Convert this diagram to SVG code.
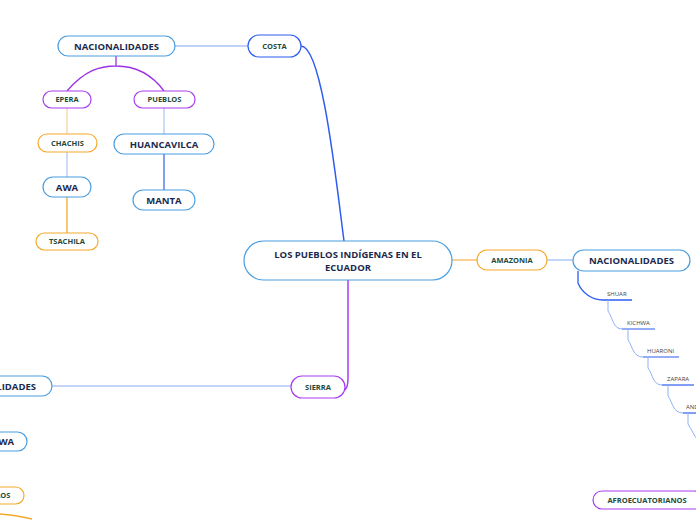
<svg xmlns="http://www.w3.org/2000/svg" width="696" height="520" viewBox="0 0 696 520">
<style>
.n{fill:#fff;stroke-width:1.2}
.b{stroke:#4a9ee0}
.c{stroke:#2d5cf0}
.p{stroke:#a73cf2}
.o{stroke:#f5a92a}
.t1{font-family:"Open Sans","Noto Sans",sans-serif;font-weight:700;font-size:9.5px;fill:#1b2a4e;text-anchor:middle}
.t2{font-family:"Open Sans","Noto Sans",sans-serif;font-weight:700;font-size:7.5px;fill:#1f4a3a;text-anchor:middle}
.t3{font-family:"Open Sans","Noto Sans",sans-serif;font-size:6px;fill:#444;}
.l{fill:none}
</style>
<g id="connectors" class="l">
<path d="M301,46 C322,46 336,180 344,241" stroke="#2d5cf0" stroke-width="1.5"/>
<path d="M175,46 L248,46" stroke="#a9c4f5" stroke-width="1.5"/>
<path d="M116,56 L116,66 M67,91 C85,70 100,66 116,66 C132,66 150,72 164,91" stroke="#9b30e8" stroke-width="1.3"/>
<path d="M67,108 L67,134" stroke="#f9d59a" stroke-width="1.3"/>
<path d="M67,152 L67,177" stroke="#b0c8f5" stroke-width="1.3"/>
<path d="M67,197 L67,233" stroke="#f5a92a" stroke-width="1.3"/>
<path d="M164,108 L164,134" stroke="#b0c8f5" stroke-width="1.3"/>
<path d="M164,154 L164,190" stroke="#3a6ee8" stroke-width="1.3"/>
<path d="M452,260 L477,260" stroke="#f8c070" stroke-width="1.5"/>
<path d="M547,260 L573,260" stroke="#b0c8f5" stroke-width="1.5"/>
<path d="M578,271 L578,283 C582,293 592,300 603,300 L632,300" stroke="#2d5cf0" stroke-width="1.3"/>
<path d="M608,300 L608,311 C613,318 613,329 622,329" stroke="#8fb0f5" stroke-width="1"/>
<path d="M622,329 L655,329" stroke="#2d5cf0" stroke-width="1.2"/>
<path d="M628,329 L628,340 C633,347 633,357 643,357" stroke="#8fb0f5" stroke-width="1"/>
<path d="M643,357 L679,357" stroke="#2d5cf0" stroke-width="1.2"/>
<path d="M648,357 L648,368 C653,375 653,385 662,385" stroke="#8fb0f5" stroke-width="1"/>
<path d="M662,385 L694,385" stroke="#2d5cf0" stroke-width="1.2"/>
<path d="M668,385 L668,396 C673,403 673,413 683,413" stroke="#8fb0f5" stroke-width="1"/>
<path d="M683,413 L700,413" stroke="#2d5cf0" stroke-width="1.2"/>
<path d="M688,413 L688,424 C692,430 694,436 698,440" stroke="#8fb0f5" stroke-width="1"/>
<path d="M348,280 L348,378 Q348,389 344,390" stroke="#a73cf2" stroke-width="1.5"/>
<path d="M52,386 L291,386" stroke="#b0c8f5" stroke-width="1.5"/>
<path d="M0,514 Q15,515 32,519" stroke="#f5a92a" stroke-width="1.5"/>
</g>
<g id="central"><rect class="n b" x="244" y="241" width="208" height="39" rx="19.5"/><text class="t1" x="348" y="258">LOS PUEBLOS INDÍGENAS EN EL</text><text class="t1" x="348" y="271">ECUADOR</text></g>
<g id="costa"><rect class="n c" x="248" y="35" width="53" height="22" rx="11"/><text class="t2" x="274.5" y="48.5">COSTA</text></g>
<g id="nac-costa"><rect class="n b" x="58" y="36" width="117" height="20" rx="10"/><text class="t1" x="116.5" y="49.5">NACIONALIDADES</text></g>
<g id="epera"><rect class="n p" x="43" y="91" width="48" height="17" rx="8.5"/><text class="t2" x="67" y="102">EPERA</text></g>
<g id="pueblos"><rect class="n p" x="134" y="91" width="61" height="17" rx="8.5"/><text class="t2" x="164.5" y="102">PUEBLOS</text></g>
<g id="chachis"><rect class="n o" x="38" y="134" width="59" height="18" rx="9"/><text class="t2" x="67.5" y="145.5">CHACHIS</text></g>
<g id="huancavilca"><rect class="n b" x="114" y="134" width="100" height="20" rx="10"/><text class="t1" x="164" y="147.5">HUANCAVILCA</text></g>
<g id="awa"><rect class="n b" x="43" y="177" width="48" height="20" rx="10"/><text class="t1" x="67" y="190.5">AWA</text></g>
<g id="manta"><rect class="n b" x="133" y="190" width="62" height="20" rx="10"/><text class="t1" x="164" y="203.5">MANTA</text></g>
<g id="tsachila"><rect class="n o" x="36" y="233" width="62" height="17" rx="8.5"/><text class="t2" x="67" y="244">TSACHILA</text></g>
<g id="amazonia"><rect class="n o" x="477" y="250" width="70" height="20" rx="10"/><text class="t2" x="512" y="263">AMAZONIA</text></g>
<g id="nac-amazonia"><rect class="n b" x="573" y="250" width="117" height="21" rx="10.5"/><text class="t1" x="631.5" y="264">NACIONALIDADES</text></g>
<g id="shuar"><text class="t3" x="607" y="296">SHUAR</text></g>
<g id="kichwa"><text class="t3" x="627" y="325">KICHWA</text></g>
<g id="huaroni"><text class="t3" x="647" y="353">HUARONI</text></g>
<g id="zapara"><text class="t3" x="667" y="381">ZAPARA</text></g>
<g id="an"><text class="t3" x="686" y="409">ANDOA</text></g>
<g id="sierra"><rect class="n p" x="291" y="376" width="54" height="22" rx="11"/><text class="t2" x="318" y="389.5">SIERRA</text></g>
<g id="nac-sierra"><rect class="n b" x="-65" y="376" width="117" height="20" rx="10"/><text class="t1" x="-6.5" y="389.5">NACIONALIDADES</text></g>
<g id="awa-sierra"><rect class="n b" x="-21" y="432" width="48" height="19" rx="9.5"/><text class="t1" x="3" y="445">AWA</text></g>
<g id="pueblos-sierra"><rect class="n o" x="-37" y="487" width="61" height="17" rx="8.5"/><text class="t2" x="-6.5" y="498">PUEBLOS</text></g>
<g id="afro"><rect class="n p" x="593" y="491" width="110" height="18" rx="9"/><text class="t2" x="647" y="502.5">AFROECUATORIANOS</text></g>
</svg>
